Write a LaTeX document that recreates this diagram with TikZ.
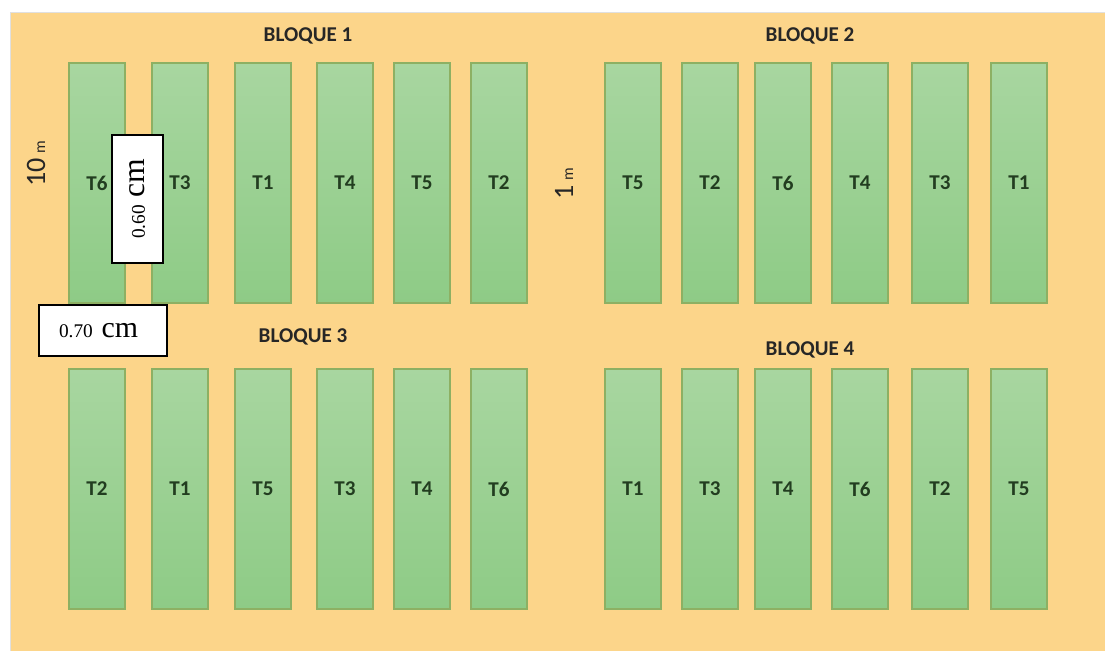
\documentclass[tikz,border=0pt]{standalone}
\usepackage{fontspec}
\setmainfont{Carlito}
\newfontfamily\measurefont{Liberation Serif}
\definecolor{fieldorange}{HTML}{FCD58A}
\definecolor{bedlight}{HTML}{A8D6A0}
\definecolor{beddark}{HTML}{8ECB86}
\definecolor{bededge}{HTML}{8DB063}
\definecolor{beddtext}{HTML}{223D20}
\usepackage{tikz}

\begin{document}
\begin{tikzpicture}[x=0.02cm, y=-0.02cm,
  every node/.style={align=center},
  bed/.style={draw=bededge, line width=0.8pt, top color=bedlight, bottom color=beddark,
              minimum width=1.12cm, minimum height=4.8cm, inner sep=0pt,
              font=\bfseries\fontsize{12}{14}\selectfont, text=beddtext},
  blocklabel/.style={font=\bfseries\fontsize{12}{14}\selectfont, text=black!85},
  sidelabel/.style={rotate=90, font=\fontsize{16}{18}\selectfont, text=black!85, inner sep=0pt},
  measure/.style={draw=black, line width=1.2pt, fill=white, minimum height=1.02cm,
                  inner ysep=0pt, font=\measurefont, text=black},
]
  \useasboundingbox (0,0) rectangle (1105,650);
  % Field
  \fill[fieldorange, draw=black!12] (10,12) rectangle (1106,651);

  % Block 1 - top left
  \node[blocklabel] (blq1) at (308,36) {BLOQUE 1};
  \node[bed] (b1t6) at (97,183) {T6};
  \node[bed] (b1t3) at (180,183) {T3};
  \node[bed] (b1t1) at (263,183) {T1};
  \node[bed] (b1t4) at (345,183) {T4};
  \node[bed] (b1t5) at (422,183) {T5};
  \node[bed] (b1t2) at (499,183) {T2};

  % Block 2 - top right
  \node[blocklabel] (blq2) at (810,36) {BLOQUE 2};
  \node[bed] (b2t5) at (633,183) {T5};
  \node[bed] (b2t2) at (710,183) {T2};
  \node[bed] (b2t6) at (783,183) {T6};
  \node[bed] (b2t4) at (860,183) {T4};
  \node[bed] (b2t3) at (940,183) {T3};
  \node[bed] (b2t1) at (1019,183) {T1};

  % Block 3 - bottom left
  \node[blocklabel] (blq3) at (303,337) {BLOQUE 3};
  \node[bed] (b3t2) at (97,489) {T2};
  \node[bed] (b3t1) at (180,489) {T1};
  \node[bed] (b3t5) at (263,489) {T5};
  \node[bed] (b3t3) at (345,489) {T3};
  \node[bed] (b3t4) at (422,489) {T4};
  \node[bed] (b3t6) at (499,489) {T6};

  % Block 4 - bottom right
  \node[blocklabel] (blq4) at (810,350) {BLOQUE 4};
  \node[bed] (b4t1) at (633,489) {T1};
  \node[bed] (b4t3) at (710,489) {T3};
  \node[bed] (b4t4) at (783,489) {T4};
  \node[bed] (b4t6) at (860,489) {T6};
  \node[bed] (b4t2) at (940,489) {T2};
  \node[bed] (b4t5) at (1019,489) {T5};

  % Dimensions
  \node[sidelabel] (len) at (36,164) {10\,{\fontsize{9}{10}\selectfont m}};
  \node[sidelabel] (gap) at (564,184) {1\,{\fontsize{9}{10}\selectfont m}};
  \node[measure, rotate=90, minimum width=2.56cm] (bedw) at (137.5,199)
    {{\fontsize{11}{12}\selectfont 0.60}\, {\fontsize{18}{19}\selectfont cm}};
  \node[measure, align=left, inner xsep=0.4cm, text width=1.76cm] (bedsp) at (103,330.5)
    {{\fontsize{11}{12}\selectfont 0.70}\, {\fontsize{17}{18}\selectfont cm}};
\end{tikzpicture}
\end{document}
